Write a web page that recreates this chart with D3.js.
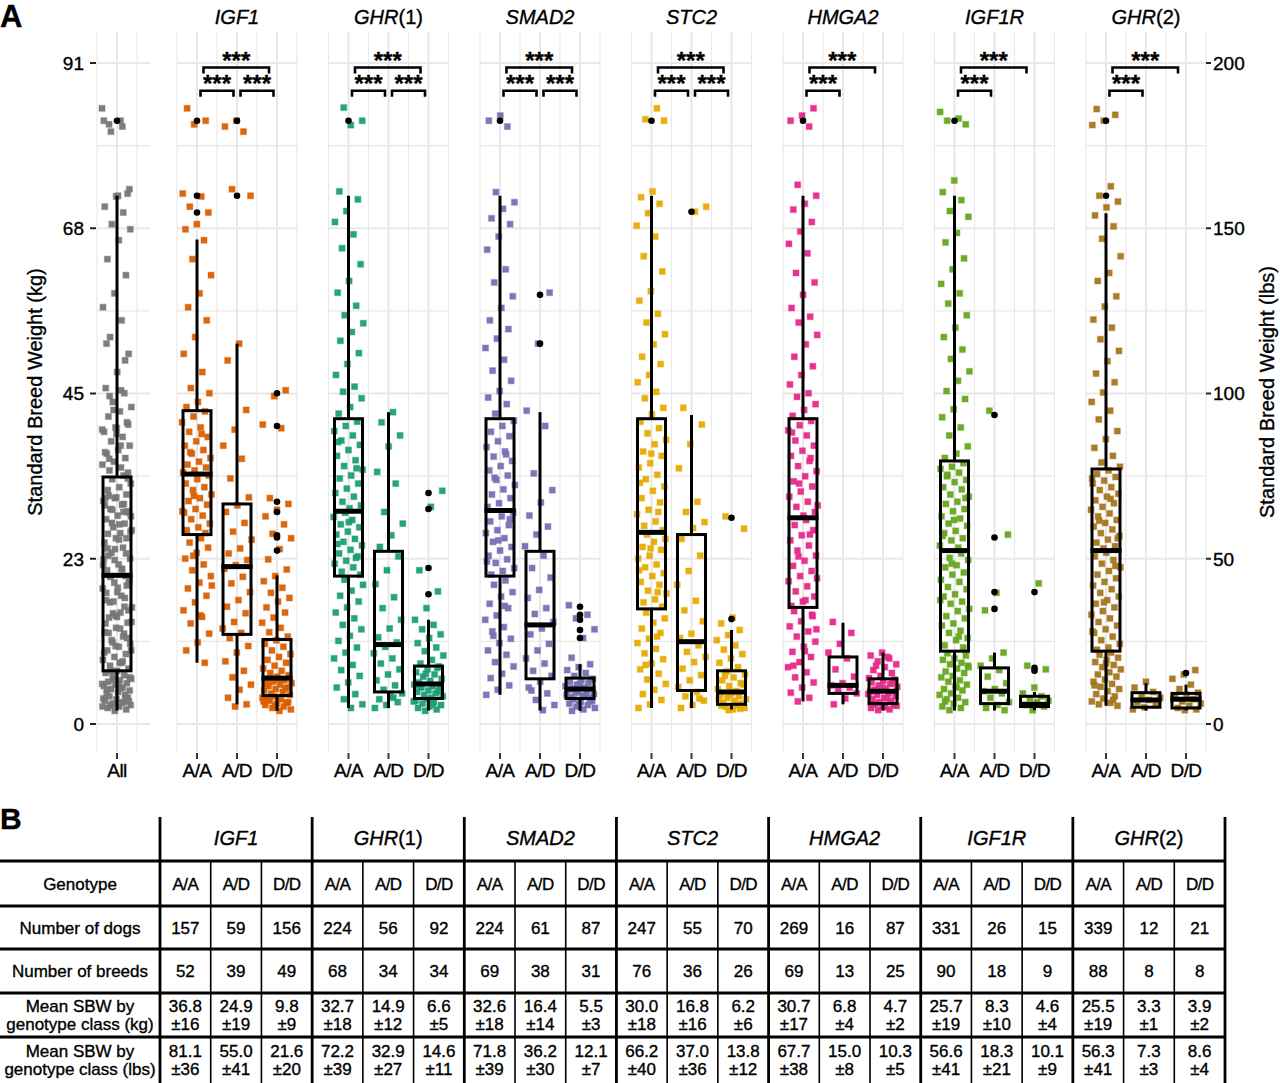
<!DOCTYPE html>
<html><head><meta charset="utf-8">
<script src="https://cdn.jsdelivr.net/npm/d3@7"></script>
<style>
body{margin:0;background:#fff}
svg{display:block}
text{font-family:"Liberation Sans",Arial,Helvetica,sans-serif;fill:#000;stroke:#000;stroke-width:0.35px}
</style>
</head><body>
<svg id="chart" width="1280" height="1083"></svg>
<script>
// ---------------- DATA ----------------
const genes = ["IGF1","GHR(1)","SMAD2","STC2","HMGA2","IGF1R","GHR(2)"];
const genotypes = ["A/A","A/D","D/D"];
const colors = ["#D95F02","#1B9E77","#7570B3","#E6AB02","#E7298A","#66A61E","#A6761D"];
const allColor = "#777777";

const kgTickLabels = ["0","23","45","68","91"];
const lbTicks = [0,50,100,150,200];

// Standard breed weight (kg) of plotted dogs, per genotype class
const igf1AA = [84.5,82.8,82.3,72.8,72.4,71.0,70.2,68.6,67.9,66.4,63.8,61.6,59.1,57.2,55.4,53.1,50.8,48.3,46.1,45.4,44.2,43.5,
42.9,42.2,41.4,40.7,40.1,39.4,38.8,38.2,37.6,37.1,36.5,36.0,35.6,35.2,34.8,34.5,39.8,37.3,
34.1,33.6,33.0,32.5,32.1,31.5,31.0,30.6,30.1,29.5,29.0,28.6,28.1,27.5,27.0,26.6,26.2,31.3,29.2,
25.5,24.9,24.2,23.5,22.7,21.9,21.1,20.3,19.4,18.6,17.6,16.7,15.6,14.7,13.8,12.4,11.2,10.1,8.4,23.1,19.0,14.9];
const igf1AD = [82.8,82.0,81.3,73.4,72.5,52.2,49.9,43.1,40.4,38.2,36.4,33.7,31.1,
30.0,29.1,27.6,26.4,25.3,24.1,23.4,22.5,21.8,
21.3,20.2,19.3,18.1,17.0,16.1,15.2,14.0,13.1,12.5,
11.8,10.7,9.8,8.6,7.3,6.4,5.4,4.7,3.6,2.7,2.4];
const igf1DD = [45.8,45.0,41.1,40.6,31.0,30.2,29.4,28.5,27.4,26.1,25.5,24.0,22.6,21.2,20.3,19.6,18.7,18.0,17.3,16.8,16.0,15.3,14.6,13.9,13.2,12.6,12.0,
11.5,11.0,10.6,10.1,9.6,9.2,8.8,8.4,8.0,7.6,7.3,7.0,6.7,6.5,
6.2,6.0,5.8,5.6,5.4,5.2,5.0,4.8,4.6,4.4,4.2,4.0,6.1,5.5,4.9,
3.8,3.6,3.4,3.2,3.0,2.8,2.6,2.4,2.2,2.0,1.8,3.5,2.9,2.5,3.1];
const ghr1AA = [84.6,82.8,82.2,73.1,72.0,70.4,68.9,67.2,65.3,63.1,60.8,59.2,57.4,56.1,55.0,53.8,52.6,50.9,49.4,47.9,46.3,45.6,44.7,43.5,42.6,
41.5,40.9,40.2,39.6,38.9,38.3,37.6,36.8,36.2,35.4,34.9,34.1,33.7,33.0,32.3,31.7,31.2,30.5,30.0,29.6,38.7,35.1,
29.0,28.4,28.0,27.4,27.0,26.4,26.0,25.4,25.0,24.5,23.9,23.4,23.0,22.4,22.0,21.5,20.9,20.5,27.7,24.7,22.8,
19.8,19.1,18.3,17.6,16.8,16.0,15.3,14.5,13.6,13.0,12.1,11.4,10.5,9.8,9.0,8.1,7.4,6.6,5.7,5.0,4.1,3.4,2.7,2.2];
const ghr1AD = [42.8,41.4,39.6,38.1,34.6,33.0,29.1,27.5,25.9,24.3,
23.0,21.1,19.2,17.4,15.9,14.3,13.1,11.9,11.2,
10.6,9.7,9.0,8.3,7.5,6.8,6.0,5.3,4.7,
4.2,3.8,3.4,3.0,2.6,2.2,3.6];
const ghr1DD = [32.0,29.8,21.1,18.2,15.9,14.3,13.6,13.0,12.3,11.8,11.1,10.5,10.0,9.4,8.8,8.3,
7.9,7.5,7.1,6.8,6.5,6.2,5.9,5.7,7.7,6.9,
5.4,5.2,5.0,4.8,4.6,4.4,4.2,4.0,3.8,3.6,5.1,4.5,
3.4,3.2,3.0,2.8,2.6,2.4,2.2,2.0,1.8,3.1,2.7];
const smad2AA = [83.5,82.8,82.0,73.0,71.6,70.7,69.4,68.6,66.9,65.1,62.4,60.6,58.7,57.1,55.4,54.2,52.9,51.6,50.0,48.5,47.1,45.7,44.8,43.9,42.6,
41.6,40.9,40.1,39.5,38.8,38.0,37.4,36.7,36.1,35.4,34.8,34.1,33.5,32.8,32.2,31.5,31.0,30.3,29.8,37.0,33.8,
29.0,28.5,27.8,27.3,26.6,26.2,25.5,25.0,24.3,23.8,23.1,22.6,22.1,21.4,21.0,20.5,28.1,25.2,22.3,
19.7,19.1,18.1,17.5,16.5,15.9,14.9,14.3,13.3,12.7,11.7,11.1,10.1,9.5,8.5,7.9,6.9,6.3,5.3,4.7,4.0,16.2,12.1];
const smad2AD = [59.2,52.2,43.0,40.9,34.4,32.1,30.4,28.6,27.1,26.0,24.4,
23.1,21.4,20.1,18.4,17.3,15.9,15.1,14.0,
13.1,12.3,11.0,10.1,9.0,8.3,7.3,6.6,
5.8,5.0,4.2,3.3,2.6,1.9,4.6];
const smad2DD = [16.3,15.0,14.5,13.0,11.8,9.1,8.2,7.8,7.4,7.0,6.6,
6.2,6.0,5.8,5.6,5.4,5.2,5.0,4.9,6.1,5.5,
4.7,4.5,4.3,4.1,3.9,3.7,3.6,4.4,4.0,3.8,
3.4,3.2,3.0,2.8,2.6,2.4,2.2,2.0,1.8,3.1,2.7];
const stc2AA = [84.5,83.0,82.8,73.1,72.3,71.4,70.1,68.4,66.9,64.2,62.1,59.4,58.1,56.3,55.1,53.5,52.1,50.4,49.4,47.9,46.9,45.6,44.7,43.4,42.5,
41.5,40.6,39.9,39.0,38.4,37.4,36.8,35.8,35.2,34.2,33.6,32.6,32.0,31.0,30.4,29.4,28.8,27.8,27.2,26.6,37.1,33.1,29.1,
26.0,25.4,25.0,24.3,23.9,23.1,22.7,21.9,21.5,20.7,20.3,19.5,19.1,18.3,17.9,17.1,16.7,16.1,24.1,21.1,18.1,
15.3,14.5,13.9,13.1,12.5,11.7,11.1,10.3,9.7,8.9,8.3,7.5,6.9,6.1,5.5,4.7,4.1,3.3,2.7,2.2,12.0,8.1];
const stc2AD = [71.0,70.3,43.4,41.1,38.4,35.1,30.5,29.1,27.7,26.9,
25.4,23.1,21.0,19.1,16.9,15.6,14.1,12.4,11.8,
10.8,9.9,9.2,8.5,7.6,6.7,6.0,5.1,
4.4,3.8,3.2,2.6,2.2,3.5];
const stc2DD = [28.5,26.8,14.6,13.8,12.9,12.2,11.5,10.8,10.2,9.6,9.0,8.4,7.8,
7.2,6.8,6.4,6.0,5.6,5.2,4.8,4.5,6.6,5.4,
4.3,4.0,3.8,3.6,3.4,3.2,3.0,2.8,4.1,3.5,
2.6,2.4,2.2,2.0,2.5,2.1,1.9];
const hmga2AA = [84.5,83.5,82.8,82.0,74.0,72.5,71.4,70.6,68.9,67.6,65.9,64.6,61.9,60.6,58.9,57.1,55.9,55.1,53.4,52.1,50.4,49.1,47.9,46.6,45.4,44.9,43.9,43.1,42.3,
41.6,41.0,40.3,39.6,38.9,38.2,37.5,36.8,36.1,35.4,34.7,34.0,33.3,32.6,31.9,31.2,30.5,29.8,29.1,28.6,40.0,36.5,33.0,30.0,
28.0,27.3,26.6,25.9,25.2,24.5,23.8,23.1,22.4,21.7,21.0,20.3,19.6,18.9,18.2,17.5,16.8,16.2,26.0,23.0,20.0,17.0,
15.5,14.8,14.1,13.4,12.7,12.0,11.3,10.6,9.9,9.2,8.5,7.8,7.1,6.4,5.7,5.0,4.3,3.6,3.1,13.0,10.0,8.0,15.0];
const hmga2AD = [14.0,12.5,11.0,9.8,9.0,7.5,6.5,5.6,5.3,5.0,4.6,4.2,3.5,2.7];
const hmga2DD = [9.8,9.4,9.0,8.6,8.2,7.8,7.4,7.0,6.6,6.3,9.2,8.0,6.1,5.9,5.7,5.5,5.3,5.1,4.9,4.7,5.6,5.0,
4.4,4.2,4.0,3.8,3.6,3.4,3.2,3.0,4.1,3.5,2.8,2.6,2.4,2.2,2.0,1.9,2.5,2.3,2.7];
const igf1rAA = [84.0,83.1,82.8,82.3,74.6,73.0,71.9,70.4,69.6,67.4,66.1,63.9,62.4,60.4,59.1,57.7,56.1,54.4,53.1,51.4,50.1,48.4,47.1,45.7,44.6,43.2,42.1,40.7,39.6,38.1,37.1,36.5,
35.8,35.3,35.0,34.5,34.2,33.5,33.2,32.5,32.2,31.5,31.2,30.5,30.2,29.5,29.2,28.5,28.2,27.5,27.2,26.5,26.2,25.5,25.2,24.5,24.2,34.0,31.0,28.0,25.8,
23.4,22.8,22.5,21.8,21.5,20.8,20.5,19.8,19.5,18.8,18.5,17.8,17.5,16.8,16.5,15.8,15.5,14.8,14.5,13.8,13.5,12.8,12.5,11.8,11.5,10.8,10.5,22.0,17.0,12.0,
9.7,9.4,9.0,8.8,8.4,8.2,7.8,7.6,7.2,7.0,6.6,6.4,6.0,5.8,5.4,5.2,4.8,4.6,4.2,4.0,3.6,3.4,3.0,2.8,2.4,2.2,1.9,8.0,5.0,3.1];
const igf1rAD = [43.0,26.0,18.0,15.6,9.8,9.0,8.0,7.4,6.5,5.6,4.8,4.5,4.2,3.6,3.0,2.6,2.2,1.9];
const igf1rDD = [19.3,8.0,7.5,5.0,4.2,3.8,3.5,3.2,3.0,2.6,2.4,1.9];
const ghr2AA = [84.4,83.6,82.8,82.2,73.8,72.5,71.7,70.9,69.8,68.3,66.6,64.2,61.9,60.8,58.7,57.3,55.5,54.4,52.8,51.2,49.8,48.1,46.9,45.5,44.2,43.0,41.8,40.2,39.1,37.9,36.8,35.9,35.3,
34.8,34.3,33.9,33.4,33.0,32.5,32.1,31.6,31.2,30.7,30.3,29.8,29.4,28.9,28.5,28.0,27.6,27.1,26.7,26.2,25.8,25.3,24.9,24.4,24.1,33.7,30.9,27.9,25.5,
23.5,23.0,22.5,22.0,21.5,21.0,20.5,20.0,19.5,19.0,18.5,18.0,17.5,17.0,16.5,16.0,15.5,15.0,14.5,14.0,13.5,13.0,12.5,12.0,11.5,11.0,10.5,10.2,21.7,16.7,12.7,
9.8,9.5,9.1,8.8,8.5,8.1,7.8,7.5,7.1,6.8,6.5,6.1,5.8,5.5,5.1,4.8,4.5,4.1,3.8,3.5,3.1,2.9,2.7,2.5,8.3,5.3,3.3];
const ghr2AD = [5.8,5.0,4.4,4.0,3.6,3.3,3.0,2.6,2.3,2.0];
const ghr2DD = [7.4,6.8,6.2,5.4,4.8,4.3,4.0,3.7,3.4,3.1,2.8,2.5,2.2,2.0,1.9,3.6];
const allDogs = igf1AA.concat(igf1AD, igf1DD);

// Box statistics (kg): [Q1, median, Q3, lower whisker, upper whisker]
const boxAll   = [[7.3,20.4,33.9,1.85,72.5]];
const boxIGF1  = [[26.0,34.3,43.0,8.4,66.5],[12.3,21.6,30.2,2.7,52.2],[3.9,6.3,11.6,1.8,20.4]];
const boxGHR1  = [[20.3,29.2,41.9,2.2,72.5],[4.4,10.9,23.7,2.2,42.8],[3.5,5.5,7.95,1.85,14.3]];
const boxSMAD2 = [[20.3,29.3,41.9,4.0,72.5],[6.2,13.6,23.7,1.85,42.8],[3.5,4.8,6.3,1.8,8.2]];
const boxSTC2  = [[15.8,26.3,41.9,2.2,72.5],[4.6,11.3,26.0,2.2,42.4],[2.7,4.4,7.3,2.0,12.9]];
const boxHMGA2 = [[16.0,28.3,41.9,3.1,72.5],[4.2,5.3,9.2,2.7,13.9],[2.8,4.5,6.2,1.85,9.8]];
const boxIGF1R = [[10.0,23.8,36.1,1.85,72.5],[2.8,4.5,7.7,1.85,9.8],[2.4,2.7,3.8,1.9,4.4]];
const boxGHR2  = [[10.0,23.8,35.0,2.5,70.1],[2.3,3.3,4.3,1.85,5.6],[2.2,3.4,4.2,1.85,5.4]];

// Outliers (kg)
const outAll   = [[82.8]];
const outIGF1  = [[82.8,72.5,70.2],[82.8,72.5],[45.4,40.9,30.5,29.1,25.9,25.6,23.8]];
const outGHR1  = [[82.8],[],[31.7,29.5,21.4,17.8]];
const outSMAD2 = [[82.8],[58.9,52.2],[16.1,15.0,14.3,12.9,11.8]];
const outSTC2  = [[82.8],[70.3],[28.3,14.4]];
const outHMGA2 = [[82.8],[],[]];
const outIGF1R = [[82.8],[42.4,25.6,18.1,15.8],[18.1,7.7,7.3]];
const outGHR2  = [[82.8,72.5],[],[7.0]];

// significance comparisons [from, to, level(0 = upper, 1 = lower)]
const sig3 = [[0,2,0],[0,1,1],[1,2,1]];
const sig2 = [[0,2,0],[0,1,1]];
const sigByGene = [sig3,sig3,sig3,sig3,sig2,sig2,sig2];
const sigLevelsKg = [90.1, 86.9];

// Table B
const numDogs   = [[157,59,156],[224,56,92],[224,61,87],[247,55,70],[269,16,87],[331,26,15],[339,12,21]];
const numBreeds = [[52,39,49],[68,34,34],[69,38,31],[76,36,26],[69,13,25],[90,18,9],[88,8,8]];
const meanKg = [[36.8,24.9,9.8],[32.7,14.9,6.6],[32.6,16.4,5.5],[30.0,16.8,6.2],[30.7,6.8,4.7],[25.7,8.3,4.6],[25.5,3.3,3.9]];
const sdKg   = [[16,19,9],[18,12,5],[18,14,3],[18,16,6],[17,4,2],[19,10,4],[19,1,2]];
const meanLbs = [[81.1,55.0,21.6],[72.2,32.9,14.6],[71.8,36.2,12.1],[66.2,37.0,13.8],[67.7,15.0,10.3],[56.6,18.3,10.1],[56.3,7.3,8.6]];
const sdLbs   = [[36,41,20],[39,27,11],[39,30,7],[40,36,12],[38,8,5],[41,21,9],[41,3,4]];

// ---------------- DRAW ----------------
const svg = d3.select("#chart");
const LB = 2.20462;
const y = d3.scaleLinear().domain([0, 200/LB]).range([724, 63]);
const yLb = d3.scaleLinear().domain([0, 200]).range([724, 63]);
const PT = 32, PB = 752;
const grid = "#e8e8e8";

const panels = [{title:null, labels:["All"], pts:[allDogs], box:boxAll, out:outAll, color:allColor,
  x: d3.scaleLinear().domain([0.5,1.5]).range([97,137]), xEnd:150, sig:[]}];
const ptsByGene = [[igf1AA,igf1AD,igf1DD],[ghr1AA,ghr1AD,ghr1DD],[smad2AA,smad2AD,smad2DD],[stc2AA,stc2AD,stc2DD],
  [hmga2AA,hmga2AD,hmga2DD],[igf1rAA,igf1rAD,igf1rDD],[ghr2AA,ghr2AD,ghr2DD]];
const boxes = [boxIGF1,boxGHR1,boxSMAD2,boxSTC2,boxHMGA2,boxIGF1R,boxGHR2];
const outs = [outIGF1,outGHR1,outSMAD2,outSTC2,outHMGA2,outIGF1R,outGHR2];
genes.forEach((g,i)=>{
  const x0 = 177 + 151.5*i;
  const xs = d3.scaleLinear().domain([0.5,3.5]).range([x0, x0+120]);
  panels.push({title:g, labels:genotypes, pts:ptsByGene[i], box:boxes[i], out:outs[i], color:colors[i], x:xs, xEnd:x0+120, sig:sigByGene[i]});
});

panels.forEach((p,pi)=>{
  const gP = svg.append("g");
  const xa = p.x.range()[0], xb = p.xEnd;
  const minor = [25,75,125,175];
  gP.selectAll(".hmin").data(minor).join("line")
    .attr("x1",xa).attr("x2",xb).attr("y1",d=>yLb(d)).attr("y2",d=>yLb(d))
    .attr("stroke",grid).attr("stroke-width",1.1);
  gP.selectAll(".hmaj").data(lbTicks).join("line")
    .attr("x1",xa).attr("x2",xb).attr("y1",d=>yLb(d)).attr("y2",d=>yLb(d))
    .attr("stroke",grid).attr("stroke-width",2);
  const n = p.labels.length;
  const vmin = d3.range(0.5, n+0.6, 1);
  const vmaj = d3.range(1, n+1);
  gP.selectAll(".vmin").data(vmin).join("line")
    .attr("x1",d=>p.x(d)).attr("x2",d=>p.x(d)).attr("y1",PT).attr("y2",PB)
    .attr("stroke",grid).attr("stroke-width",1.1);
  gP.selectAll(".vmaj").data(vmaj).join("line")
    .attr("x1",d=>p.x(d)).attr("x2",d=>p.x(d)).attr("y1",PT).attr("y2",PB)
    .attr("stroke",grid).attr("stroke-width",2);
  gP.selectAll(".xt").data(p.labels).join("line")
    .attr("x1",(d,i)=>p.x(i+1)).attr("x2",(d,i)=>p.x(i+1)).attr("y1",PB+1).attr("y2",PB+7)
    .attr("stroke","#333").attr("stroke-width",2);
  gP.selectAll(".xl").data(p.labels).join("text")
    .attr("x",(d,i)=>p.x(i+1)).attr("y",777).attr("text-anchor","middle")
    .attr("font-size",19).attr("letter-spacing",-0.6).text(d=>d);
  p.pts.forEach((arr,gi)=>{
    const cx = p.x(gi+1);
    gP.append("g").selectAll("rect").data(arr).join("rect")
      .attr("x",(d,i)=>cx + (((i*0.6180339887 + gi*0.31 + pi*0.17) % 1) - 0.5)*30 - 3)
      .attr("y",d=>y(d)-3).attr("width",6).attr("height",6)
      .attr("fill",p.color).attr("fill-opacity",0.95)
      .attr("stroke",p.color).attr("stroke-opacity",0.35).attr("stroke-width",1.2);
  });
  p.box.forEach((b,gi)=>{
    const cx = p.x(gi+1), hw = 14;
    const gb = gP.append("g").attr("stroke","#000").attr("fill","none");
    gb.append("line").attr("x1",cx).attr("x2",cx).attr("y1",y(b[2])).attr("y2",y(b[4])).attr("stroke-width",3);
    gb.append("line").attr("x1",cx).attr("x2",cx).attr("y1",y(b[0])).attr("y2",y(b[3])).attr("stroke-width",3);
    gb.append("rect").attr("x",cx-hw).attr("y",y(b[2])).attr("width",2*hw).attr("height",y(b[0])-y(b[2])).attr("stroke-width",3);
    gb.append("line").attr("x1",cx-hw-1.5).attr("x2",cx+hw+1.5).attr("y1",y(b[1])).attr("y2",y(b[1])).attr("stroke-width",5);
    gP.append("g").selectAll("circle").data(p.out[gi]).join("circle")
      .attr("cx",cx).attr("cy",d=>y(d)).attr("r",3.3).attr("fill","#000");
  });
  p.sig.forEach(s=>{
    const lvl = sigLevelsKg[s[2]];
    const yy = y(lvl);
    const xa1 = p.x(s[0]+1) + (s[2]===0 ? 6.5 : 3.5);
    const xb1 = p.x(s[1]+1) - (s[2]===0 ? 8 : 3.5);
    gP.append("path").attr("d",`M${xa1},${yy+6}V${yy}H${xb1}V${yy+6}`)
      .attr("fill","none").attr("stroke","#000").attr("stroke-width",2.6);
    gP.append("text").attr("x",(xa1+xb1)/2).attr("y",yy+1).attr("text-anchor","middle")
      .attr("font-size",24).attr("font-weight","bold").text("***");
  });
  if (p.title){
    const m = p.title.match(/^([A-Z0-9]+?)(\(\d\))?$/);
    const t = gP.append("text").attr("x",p.x(2)).attr("y",24).attr("text-anchor","middle").attr("font-size",20);
    t.append("tspan").attr("font-style","italic").text(m[1]);
    if (m[2]) t.append("tspan").text(m[2]);
  }
});

const leftTicks = lbTicks.map(v=>v/LB);
svg.selectAll(".lt").data(leftTicks).join("line")
  .attr("x1",90).attr("x2",96).attr("y1",d=>y(d)).attr("y2",d=>y(d)).attr("stroke","#222").attr("stroke-width",2);
svg.selectAll(".ll").data(leftTicks).join("text")
  .attr("x",84).attr("y",d=>y(d)).attr("dy","0.36em").attr("text-anchor","end").attr("font-size",19)
  .text((d,i)=>kgTickLabels[i]);
svg.selectAll(".rt").data(lbTicks).join("line")
  .attr("x1",1206).attr("x2",1211).attr("y1",d=>yLb(d)).attr("y2",d=>yLb(d)).attr("stroke","#222").attr("stroke-width",2);
svg.selectAll(".rl").data(lbTicks).join("text")
  .attr("x",1213).attr("y",d=>yLb(d)).attr("dy","0.36em").attr("font-size",19).text(d=>d);
svg.append("text").attr("transform",`translate(42,${(PT+PB)/2}) rotate(-90)`).attr("text-anchor","middle")
  .attr("font-size",20).text("Standard Breed Weight (kg)");
svg.append("text").attr("transform",`translate(1274,${(PT+PB)/2}) rotate(-90)`).attr("text-anchor","middle")
  .attr("font-size",20).text("Standard Breed Weight (lbs)");
svg.append("text").attr("x",0).attr("y",27).attr("font-size",31).attr("font-weight","bold").text("A");
svg.append("text").attr("x",0).attr("y",829).attr("font-size",30).attr("font-weight","bold").text("B");

// ---------------- TABLE ----------------
const tx = d3.scaleLinear().domain([0,21]).range([160,1225]);
const rowY = [861,906,949,993,1037,1083];
const tg = svg.append("g");
tg.selectAll(".hl").data(rowY.slice(0,5)).join("line")
  .attr("x1",0).attr("x2",1226).attr("y1",d=>d).attr("y2",d=>d).attr("stroke","#000").attr("stroke-width",3);
tg.selectAll(".gl").data(d3.range(0,22,3)).join("line")
  .attr("x1",d=>tx(d)).attr("x2",d=>tx(d)).attr("y1",817).attr("y2",1083).attr("stroke","#000").attr("stroke-width",2.8);
tg.selectAll(".sl").data(d3.range(0,21).filter(d=>d%3!==0)).join("line")
  .attr("x1",d=>tx(d)).attr("x2",d=>tx(d)).attr("y1",861).attr("y2",1083).attr("stroke","#000").attr("stroke-width",1.6);
genes.forEach((g,i)=>{
  const m = g.match(/^([A-Z0-9]+?)(\(\d\))?$/);
  const t = tg.append("text").attr("x",tx(i*3+1.5)).attr("y",845).attr("text-anchor","middle").attr("font-size",20);
  t.append("tspan").attr("font-style","italic").text(m[1]);
  if (m[2]) t.append("tspan").text(m[2]);
});
const rowLabels = [["Genotype"],["Number of dogs"],["Number of breeds"],["Mean SBW by","genotype class (kg)"],["Mean SBW by","genotype class (lbs)"]];
rowLabels.forEach((lines,r)=>{
  const cy = (rowY[r]+rowY[r+1])/2;
  lines.forEach((s,k)=>{
    tg.append("text").attr("x",80).attr("y",cy + (lines.length===1?0:(k===0?-9:9))).attr("dy","0.36em")
      .attr("text-anchor","middle").attr("font-size",17).text(s);
  });
});
const cellText = (r,gi,k)=>{
  if (r===0) return [genotypes[k]];
  if (r===1) return [String(numDogs[gi][k])];
  if (r===2) return [String(numBreeds[gi][k])];
  if (r===3) return [meanKg[gi][k].toFixed(1), "±"+sdKg[gi][k]];
  return [meanLbs[gi][k].toFixed(1), "±"+sdLbs[gi][k]];
};
for (let r=0;r<5;r++){
  const cy = (rowY[r]+rowY[r+1])/2;
  for (let gi=0;gi<7;gi++) for (let k=0;k<3;k++){
    const lines = cellText(r,gi,k);
    lines.forEach((s,li)=>{
      tg.append("text").attr("x",tx(gi*3+k+0.5)).attr("y",cy + (lines.length===1?0:(li===0?-9:9))).attr("dy","0.36em")
        .attr("text-anchor","middle").attr("font-size",17).attr("letter-spacing",r===0?-0.6:0).text(s);
    });
  }
}
</script>
</body></html>
